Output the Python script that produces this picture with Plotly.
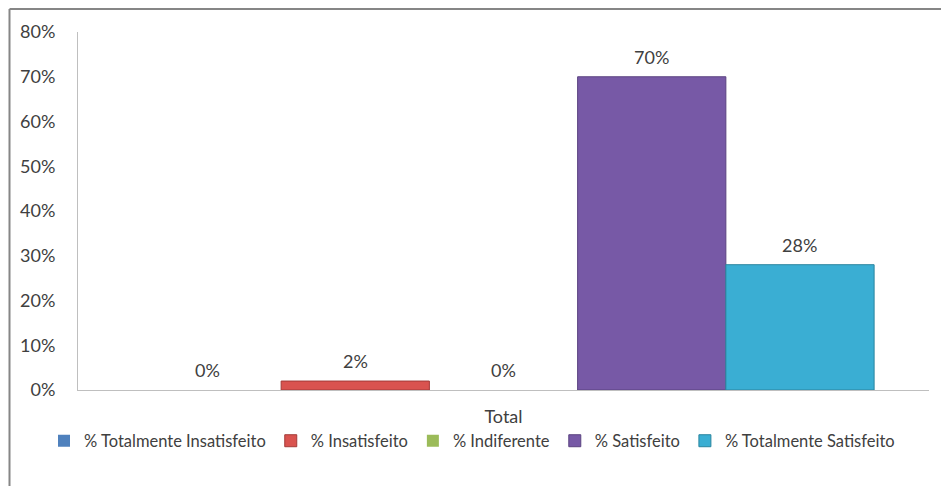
import plotly.graph_objects as go

# Survey results: satisfaction distribution (single "Total" category)
category = ["Total"]
series_names = [
    "% Totalmente Insatisfeito",
    "% Insatisfeito",
    "% Indiferente",
    "% Satisfeito",
    "% Totalmente Satisfeito",
]
series_values = [0.00, 0.02, 0.00, 0.70, 0.28]
series_colors = ["#4F81BD", "#D9534F", "#9BBB59", "#7759A6", "#3AAED3"]
line_colors = ["#3A6496", "#A33B38", "#76923C", "#5B4380", "#2A859F"]
y_ticks = [0, 0.1, 0.2, 0.3, 0.4, 0.5, 0.6, 0.7, 0.8]

W, H = 941, 486
L, R, T, B = 78, 12, 32, 96
BARGAP = 0.129
FONT = "Lato, Calibri, Carlito, sans-serif"
TXT = "#404040"
FS = 18
LEG_FS = 16.5

fig = go.Figure()
for name, val, col, lc in zip(series_names, series_values, series_colors, line_colors):
    fig.add_trace(go.Bar(
        x=category, y=[val], name=name,
        marker=dict(color=col, line=dict(color=lc, width=1 if val > 0 else 0)),
    ))

# value labels above each bar, positioned from the grouped-bar offsets
n = len(series_values)
group_w = 1 - BARGAP
for i, val in enumerate(series_values):
    xc = -group_w / 2 + (i + 0.5) * group_w / n
    fig.add_annotation(
        x=xc, y=val, xref="x", yref="y",
        text=f"{val * 100:.0f}%", showarrow=False,
        yanchor="middle", yshift=20,
        font=dict(family=FONT, size=FS, color=TXT),
    )

# chart frame (top and left edges of the chart area border)
pw, ph = W - L - R, H - T - B
fx0 = (9.5 - L) / pw
fy1 = (H - B - 9) / ph
fig.add_shape(type="line", xref="paper", yref="paper",
              x0=fx0, x1=(W + 10 - L) / pw, y0=fy1, y1=fy1,
              line=dict(color="#868686", width=2))
fig.add_shape(type="line", xref="paper", yref="paper",
              x0=fx0, x1=fx0, y0=fy1, y1=-(B + 10) / ph,
              line=dict(color="#868686", width=2))

fig.update_layout(
    width=W, height=H,
    margin=dict(l=L, r=R, t=T, b=B),
    paper_bgcolor="white", plot_bgcolor="white",
    barmode="group", bargap=BARGAP, bargroupgap=0,
    font=dict(family=FONT, size=FS, color=TXT),
    showlegend=True,
    legend=dict(
        orientation="h", x=(472 - L) / pw, xanchor="center",
        y=(H - B - 441) / ph, yanchor="middle",
        font=dict(family=FONT, size=LEG_FS, color=TXT),
        itemwidth=30, tracegroupgap=0,
        bgcolor="rgba(0,0,0,0)",
    ),
    xaxis=dict(
        type="category", range=[-0.5, 0.5],
        showline=True, linecolor="#BFBFBF", linewidth=1,
        showgrid=False, ticks="", ticklabelstandoff=10,
        tickfont=dict(family=FONT, size=FS, color=TXT),
        fixedrange=True,
    ),
    yaxis=dict(
        range=[0, 0.8], tickvals=y_ticks, tickformat=".0%",
        showline=True, linecolor="#BFBFBF", linewidth=1,
        showgrid=False, zeroline=False, ticks="",
        ticklabelstandoff=18,
        tickfont=dict(family=FONT, size=FS, color=TXT),
        fixedrange=True,
    ),
)

fig.write_html("out.html")
